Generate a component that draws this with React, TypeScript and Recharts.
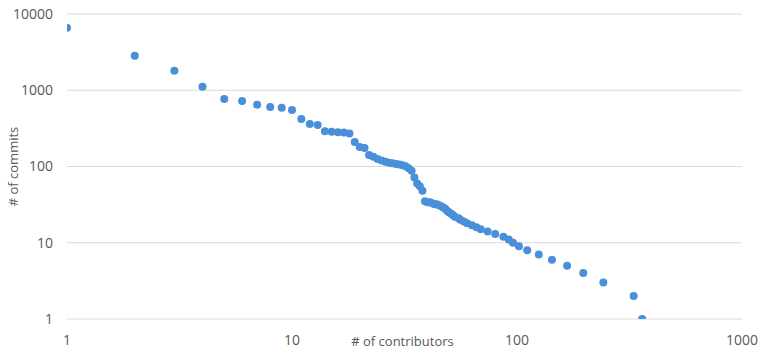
import { ScatterChart, Scatter, XAxis, YAxis, CartesianGrid } from "recharts";

// rank of contributor (x) vs number of commits (y), both log scale
const contributors = [
  1, 2, 3, 4, 5, 6, 7, 8, 9, 10, 11, 12, 13, 14, 15, 16, 17, 18, 19, 20, 21, 22, 23, 24, 25, 26, 27, 28, 29, 30,
  31, 32, 33, 34, 35, 36, 37, 38, 39, 40, 41, 42, 43, 44, 45, 46, 47, 48, 49, 50, 51, 52, 53, 55, 56, 58, 60, 63,
  66, 69, 74, 80, 87, 92, 96, 102, 111, 125, 143, 167, 197, 242, 330, 360,
];
const commits = [
  6600, 2830, 1800, 1110, 770, 725, 645, 605, 590, 550, 420, 360, 350, 290, 285, 282, 280, 270, 210, 180, 175, 142,
  134, 125, 120, 115, 112, 110, 108, 106, 104, 101, 95, 88, 72, 60, 55, 48, 35, 34, 34, 33, 32, 32, 31, 30, 29, 28,
  26, 25, 24, 23, 22, 21, 20, 19, 18, 17, 16, 15, 14, 13, 12, 11, 10, 9, 8, 7, 6, 5, 4, 3, 2, 1,
];
const xTicks = [1, 10, 100, 1000];
const yTicks = [1, 10, 100, 1000, 10000];

const data = contributors.map((c, i) => ({ contributors: c, commits: commits[i] }));

const FONT = "'Open Sans', sans-serif";
const TEXT = "#595959";
const DOT = "#4a90d9";

function Dot(props: any) {
  const { cx, cy } = props;
  if (cx == null || cy == null) return null;
  return <circle cx={cx} cy={cy} r={4} fill={DOT} />;
}

export default function App() {
  return (
    <div style={{ position: "absolute", left: 0, top: 0, background: "#fff" }}>
      <ScatterChart width={758} height={350} margin={{ top: 14, right: 16, left: 0, bottom: 0 }}>
        <CartesianGrid stroke="#d9d9d9" vertical={false} />
        <XAxis
          type="number"
          dataKey="contributors"
          scale="log"
          domain={[1, 1000]}
          ticks={xTicks}
          allowDataOverflow
          axisLine={false}
          tickLine={false}
          tickSize={0}
          tickMargin={16}
          height={31}
          tick={{ fill: TEXT, fontSize: 14, fontFamily: FONT }}
          label={{
            value: "# of contributors",
            position: "center",
            dy: 7,
            dx: -2,
            fill: TEXT,
            fontSize: 13,
            fontFamily: FONT,
          }}
        />
        <YAxis
          type="number"
          dataKey="commits"
          scale="log"
          domain={[1, 10000]}
          ticks={yTicks}
          allowDataOverflow
          axisLine={false}
          tickLine={false}
          tickSize={0}
          tickMargin={14}
          width={67}
          tick={{ fill: TEXT, fontSize: 14, fontFamily: FONT }}
          label={{
            value: "# of commits",
            position: "insideLeft",
            angle: -90,
            offset: 13,
            fill: TEXT,
            fontSize: 13,
            fontFamily: FONT,
            style: { textAnchor: "middle" },
          }}
        />
        <Scatter data={data} shape={<Dot />} isAnimationActive={false} />
      </ScatterChart>
    </div>
  );
}
